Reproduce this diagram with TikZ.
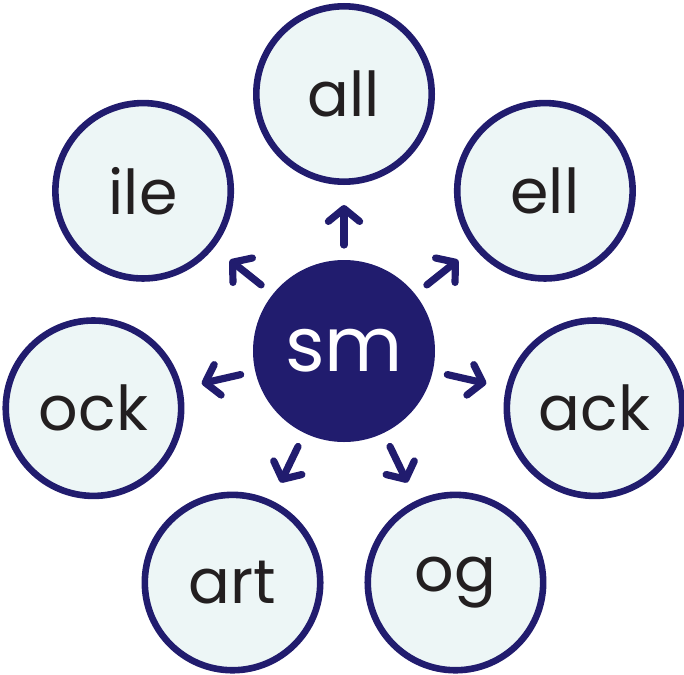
\documentclass[tikz,border=0pt]{standalone}
\usepackage{fontspec}
\usepackage{tikz}
\usetikzlibrary{arrows.meta,positioning}
\newfontfamily\wordfont{Poppins}
\definecolor{navy}{HTML}{211C6E}
\definecolor{pale}{HTML}{EDF6F6}
\definecolor{ink}{HTML}{231F20}
\tikzset{
    %Define standard arrow tip
    >={Straight Barb[length=0.32cm,width=0.78cm,round]},
    %Define style for the middle blend
    hub/.style={
           circle,
           fill=navy,
           inner sep=0pt,
           outer sep=0pt,
           minimum size=4.55cm,
           text=white,
           font=\wordfont\fontsize{54}{54}\selectfont,
           text centered},
    %Define style for the word endings
    rime/.style={
           circle,
           draw=navy,
           line width=0.165cm,
           fill=pale,
           inner sep=0pt,
           minimum size=4.385cm,
           text=ink,
           font=\wordfont\fontsize{44}{44}\selectfont,
           text centered},
    % Define arrow style
    pil/.style={
           ->,
           draw=navy,
           line width=0.18cm,
           line cap=round,
           shorten <=0.375cm,
           shorten >=0.5cm}
}
\begin{document}
\begin{tikzpicture}
\useasboundingbox (-8.6,-8.075) rectangle (8.5,8.775);
 %nodes
\node[hub](sm){sm};
\node[rime] (all) at (90:6.425) {all};
\node[rime] (ell) at (38.57:6.425) {ell};
\node[rime] (ack) at (-12.86:6.425) {ack};
\node[rime] (og) at (-64.29:6.425) {og};
\node[rime] (art) at (-115.71:6.425) {art};
\node[rime] (ock) at (-167.14:6.425) {ock};
\node[rime] (ile) at (141.43:6.425) {ile};
\path[pil]
    (sm) edge (all) edge (ell) edge (ack) edge (og)
    (sm) edge (art) edge (ock) edge (ile);
\end{tikzpicture}
\end{document}
